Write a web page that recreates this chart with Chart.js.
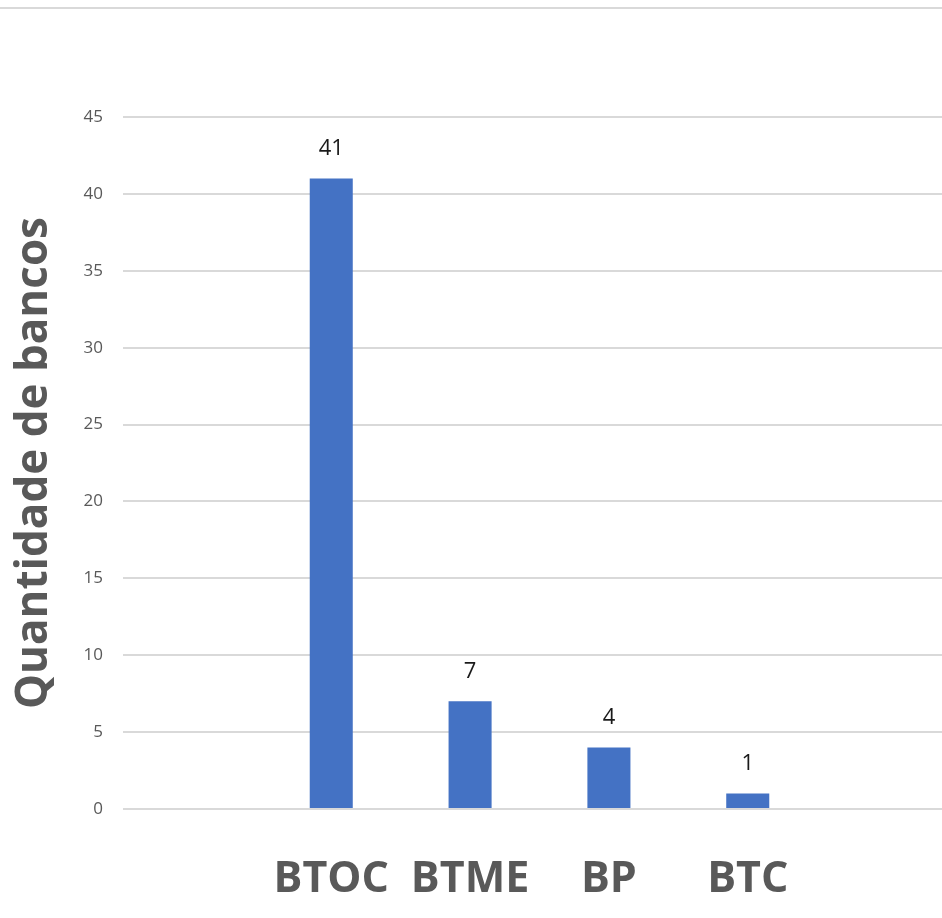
<!DOCTYPE html>
<html>
<head>
<meta charset="utf-8">
<script src="https://cdn.jsdelivr.net/npm/chart.js@4"></script>
<style>
    html, body { margin: 0; padding: 0; background: #fff; overflow: hidden; }
    #wrap { position: relative; width: 942px; height: 918px; overflow: hidden; }
    #topline { position: absolute; left: 0; top: 7px; width: 942px; height: 2px; background: #d9d9d9; }
    #box { position: absolute; left: 0; top: 0; width: 960px; height: 918px; }
</style>
</head>
<body>
<div id="wrap">
    <div id="topline"></div>
    <div id="box"><canvas id="chart"></canvas></div>
</div>
<script>
const categories = ["", "BTOC", "BTME", "BP", "BTC", ""];
const bancos = [null, 41, 7, 4, 1, null];
const yTicks = [0, 5, 10, 15, 20, 25, 30, 35, 40, 45];

// rótulos de valor em cima das barras
const valueLabels = {
    id: "valueLabels",
    afterDatasetsDraw(chart) {
        const ctx = chart.ctx;
        const meta = chart.getDatasetMeta(0);
        ctx.save();
        ctx.font = "22px 'Open Sans', sans-serif";
        ctx.fillStyle = "#1a1a1a";
        ctx.textAlign = "center";
        ctx.textBaseline = "middle";
        meta.data.forEach((bar, i) => {
            if (bancos[i] == null) return;
            ctx.fillText(bancos[i], bar.x, bar.y - 30);
        });
        ctx.restore();
    }
};

new Chart(document.getElementById("chart"), {
    type: "bar",
    data: {
        labels: categories,
        datasets: [{
            data: bancos,
            backgroundColor: "#4472c4",
            barPercentage: 0.31,
            categoryPercentage: 1,
        }],
    },
    options: {
        responsive: true,
        maintainAspectRatio: false,
        animation: false,
        devicePixelRatio: 1,
        layout: { padding: { top: 117, right: 4, left: 0, bottom: 0 } },
        plugins: { legend: { display: false }, tooltip: { enabled: false } },
        scales: {
            x: {
                grid: { display: false, drawTicks: false },
                border: { display: false },
                ticks: {
                    color: "#595959",
                    font: { family: "'Open Sans', sans-serif", size: 43, weight: "bold" },
                    padding: 45,
                    maxRotation: 0,
                    autoSkip: false,
                },
                afterFit(scale) { scale.height = 109; },
            },
            y: {
                min: 0,
                max: 45,
                afterBuildTicks(scale) { scale.ticks = yTicks.map(v => ({ value: v })); },
                grid: { color: "#d9d9d9", lineWidth: 2, drawTicks: false },
                border: { display: false },
                ticks: {
                    color: "#595959",
                    font: { family: "'Open Sans', sans-serif", size: 17 },
                    padding: 20,
                },
                title: {
                    display: true,
                    text: "Quantidade de bancos",
                    color: "#595959",
                    font: { family: "'Open Sans', sans-serif", size: 44, weight: "bold" },
                    padding: { top: 8, bottom: 0 },
                },
                afterFit(scale) { scale.width = 123; },
            },
        },
    },
    plugins: [valueLabels],
});
</script>
</body>
</html>
